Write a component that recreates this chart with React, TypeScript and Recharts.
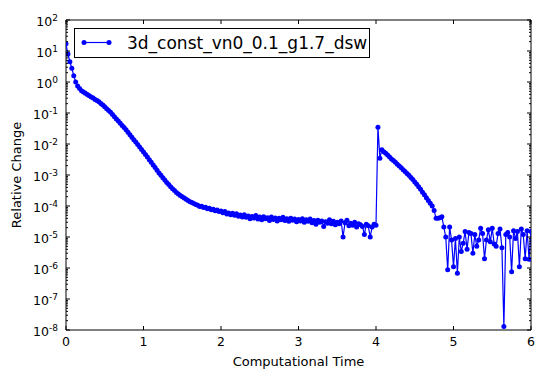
import { LineChart, Line, XAxis, YAxis, Legend, ReferenceArea } from "recharts";

// sample spacing of the run (computational time units)
const STEP = 0.025;

const initialDecay = [
  17, 8, 4.5, 2.8, 1.6, 1.0, 0.74, 0.62, 0.525,
  0.479, 0.437, 0.398, 0.363, 0.331, 0.302, 0.275, 0.251, 0.229, 0.204, 0.182,
  0.158, 0.138, 0.12, 0.105, 0.0891, 0.0759, 0.0646, 0.055, 0.0468, 0.0398,
  0.0339, 0.0288, 0.024, 0.02, 0.0166, 0.0138, 0.0115, 0.00955, 0.00794, 0.00661,
  0.0055, 0.00457, 0.0038, 0.00309, 0.00257, 0.00209, 0.00174, 0.00141, 0.00117, 9.77e-4,
  8.13e-4, 6.92e-4, 5.75e-4, 4.9e-4, 4.17e-4, 3.63e-4, 3.16e-4, 2.75e-4, 2.45e-4, 2.19e-4,
  2.0e-4, 1.82e-4, 1.66e-4, 1.51e-4, 1.38e-4, 1.29e-4, 1.2e-4, 1.12e-4, 1.05e-4, 9.6e-5,
  9.8e-5, 8.9e-5, 9.1e-5, 8.2e-5, 8.4e-5, 7.5e-5, 7.9e-5, 7.0e-5, 7.4e-5, 6.6e-5,
  6.9e-5,
];

const plateau = [
  6.1e-5, 6.6e-5, 5.5e-5, 6.0e-5, 5.2e-5, 5.8e-5, 5.0e-5, 5.6e-5, 4.7e-5, 5.1e-5,
  4.4e-5, 5.2e-5, 4.3e-5, 4.8e-5, 3.9e-5, 4.6e-5, 4.1e-5, 4.9e-5, 3.8e-5, 4.4e-5,
  3.6e-5, 4.5e-5, 3.9e-5, 4.2e-5, 3.4e-5, 4.4e-5, 3.7e-5, 4.1e-5, 3.3e-5, 4.0e-5,
  3.6e-5, 4.3e-5, 3.4e-5, 3.9e-5, 3.2e-5, 4.0e-5, 3.5e-5, 3.8e-5, 3.1e-5, 3.7e-5,
  3.3e-5, 3.9e-5, 3.0e-5, 3.6e-5, 3.2e-5, 3.8e-5, 2.9e-5, 3.4e-5, 2.6e-5, 3.5e-5,
  3.0e-5, 3.3e-5, 2.2e-5, 3.1e-5, 2.8e-5, 3.6e-5, 2.7e-5, 3.2e-5, 2.5e-5, 3.0e-5,
  2.7e-5, 3.3e-5, 1.0e-5, 2.9e-5, 3.5e-5, 2.3e-5, 2.8e-5, 2.4e-5, 3.0e-5, 2.1e-5,
  2.7e-5, 2.5e-5, 2.2e-5, 1.2e-5, 2.6e-5, 2.3e-5, 1.0e-5, 2.1e-5, 2.6e-5, 2.4e-5,
];

const secondPulse = [
  0.035, 3.5e-3, 6.5e-3,
  5.6e-3, 5.0e-3, 4.4e-3, 3.8e-3, 3.3e-3, 2.95e-3, 2.57e-3, 2.24e-3, 1.95e-3, 1.7e-3,
  1.48e-3, 1.29e-3, 1.12e-3, 9.8e-4, 8.3e-4, 7.1e-4, 6.0e-4, 5.0e-4, 4.2e-4, 3.5e-4,
  2.8e-4, 2.3e-4, 1.86e-4, 1.51e-4, 1.23e-4, 1.0e-4, 7.1e-5, 4.0e-5, 4.0e-5, 4.2e-5,
  4.5e-5,
];

const noiseTail = [
  2.1e-5, 1.0e-5, 8.7e-7, 2.1e-5, 8.0e-6, 1.1e-6, 9.0e-6, 6.8e-7, 1.0e-5, 3.4e-6,
  6.3e-6, 1.5e-5, 4.0e-6, 1.4e-5, 1.3e-5, 3.0e-6, 1.2e-5, 5.0e-6, 8.0e-6, 1.9e-5,
  1.3e-5, 2.0e-6, 8.0e-6, 1.7e-5, 7.0e-6, 1.9e-5, 6.0e-6, 5.0e-6, 1.3e-5, 1.8e-5,
  4.5e-6, 1.3e-8, 1.2e-5, 1.4e-5, 1.0e-5, 7.5e-7, 1.6e-5, 9.0e-6, 1.5e-5, 1.1e-6,
  1.8e-5, 1.2e-5, 2.0e-6, 1.6e-5, 1.9e-6, 1.5e-5,
];

const relChange = [...initialDecay, ...plateau, ...secondPulse, ...noiseTail];
const data = relChange.map((v, i) => ({ t: +(i * STEP).toFixed(3), v }));

const xTicks = [0, 1, 2, 3, 4, 5, 6];
const yTicks = [1e-8, 1e-7, 1e-6, 1e-5, 1e-4, 1e-3, 1e-2, 1e-1, 1, 10, 100];
const seriesName = "3d_const_vn0_0.1_g1.7_dsw";

const W = 545;
const H = 380;
const PLOT_L = 66;
const PLOT_R = 531;
const PLOT_T = 20;
const PLOT_B = 330;
const DECADE = (PLOT_B - PLOT_T) / 10;
const FONT = "DejaVu Sans";
const BLUE = "#0000ff";

function XTick(props: any) {
  const { x, payload } = props;
  return (
    <g>
      <line x1={x} x2={x} y1={PLOT_B} y2={PLOT_B - 4} stroke="#000" />
      <line x1={x} x2={x} y1={PLOT_T} y2={PLOT_T + 4} stroke="#000" />
      <text x={x} y={PLOT_B + 16} textAnchor="middle" fontFamily={FONT} fontSize={12.5} fill="#000">
        {payload.value}
      </text>
    </g>
  );
}

function YTick(props: any) {
  const { y, payload } = props;
  const exp = Math.round(Math.log10(payload.value));
  const minors = exp < 2 ? [2, 3, 4, 5, 6, 7, 8, 9].map((k) => y - DECADE * Math.log10(k)) : [];
  return (
    <g>
      <line x1={PLOT_L} x2={PLOT_L + 4} y1={y} y2={y} stroke="#000" />
      <line x1={PLOT_R} x2={PLOT_R - 4} y1={y} y2={y} stroke="#000" />
      {minors.map((yy, i) => (
        <g key={i}>
          <line x1={PLOT_L} x2={PLOT_L + 2} y1={yy} y2={yy} stroke="#000" />
          <line x1={PLOT_R} x2={PLOT_R - 2} y1={yy} y2={yy} stroke="#000" />
        </g>
      ))}
      <text x={58} y={y + 6} textAnchor="end" fontFamily={FONT} fontSize={12.5} fill="#000">
        10
        <tspan dy={-5.5} fontSize={9}>
          {exp}
        </tspan>
      </text>
    </g>
  );
}

function XTitle() {
  return (
    <text x={(PLOT_L + PLOT_R) / 2} y={366} textAnchor="middle" fontFamily={FONT} fontSize={13} fill="#000">
      Computational Time
    </text>
  );
}

function YTitle() {
  const cy = (PLOT_T + PLOT_B) / 2;
  return (
    <text
      x={21}
      y={cy}
      transform={`rotate(-90 21 ${cy})`}
      textAnchor="middle"
      fontFamily={FONT}
      fontSize={13}
      fill="#000"
    >
      Relative Change
    </text>
  );
}

function LegendBox() {
  return (
    <svg width={296} height={30} style={{ display: "block" }}>
      <rect x={0.5} y={0.5} width={295} height={29} fill="#fff" stroke="#000" />
      <line x1={10} x2={35} y1={14.5} y2={14.5} stroke={BLUE} strokeWidth={1.2} />
      <circle cx={10} cy={14.5} r={2.5} fill={BLUE} />
      <circle cx={35} cy={14.5} r={2.5} fill={BLUE} />
      <text x={53} y={20.5} fontFamily={FONT} fontSize={17} fill="#000">
        {seriesName}
      </text>
    </svg>
  );
}

export default function App() {
  return (
    <div style={{ position: "absolute", left: 0, top: 0, background: "#fff" }}>
      <LineChart width={W} height={H} data={data} margin={{ top: PLOT_T, right: W - PLOT_R, bottom: 0, left: 0 }}>
        <XAxis
          dataKey="t"
          type="number"
          domain={[0, 6]}
          ticks={xTicks}
          allowDataOverflow
          height={H - PLOT_B}
          axisLine={false}
          tickLine={false}
          tick={XTick}
          label={<XTitle />}
        />
        <YAxis
          type="number"
          scale="log"
          domain={[1e-8, 100]}
          ticks={yTicks}
          allowDataOverflow
          width={PLOT_L}
          axisLine={false}
          tickLine={false}
          tick={YTick}
          label={<YTitle />}
        />
        <ReferenceArea x1={0} x2={6} y1={1e-8} y2={100} fill="none" stroke="#000" strokeWidth={1} fillOpacity={0} />
        <Line
          type="linear"
          dataKey="v"
          name={seriesName}
          stroke={BLUE}
          strokeWidth={1.2}
          dot={{ r: 2.5, fill: BLUE, stroke: "none" }}
          isAnimationActive={false}
        />
        <Legend
          layout="horizontal"
          verticalAlign="middle"
          align="center"
          wrapperStyle={{ left: 74, top: 28, width: 296 }}
          content={() => <LegendBox />}
        />
      </LineChart>
    </div>
  );
}
